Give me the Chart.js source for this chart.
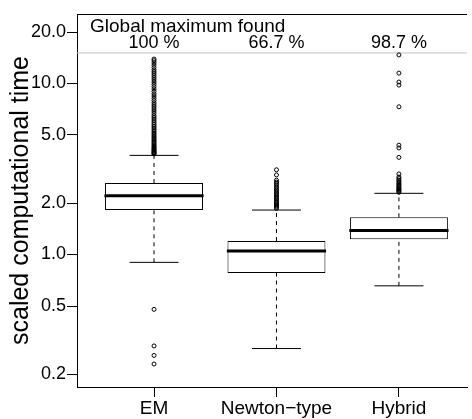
<!DOCTYPE html>
<html>
<head>
<meta charset="utf-8">
<script src="https://cdn.jsdelivr.net/npm/chart.js@4.4.0/dist/chart.umd.min.js"></script>
<style>
    html, body { margin: 0; padding: 0; background: #fff; }
    #wrap { width: 472px; height: 419px; }
</style>
</head>
<body>
<div id="wrap"><canvas id="chart"></canvas></div>
<script>
// methods and share of runs that reached the global maximum
const methods = ['EM', 'Newton\u2212type', 'Hybrid'];
const globalMaxFound = [100, 66.7, 98.7];

// box statistics
const whiskerLow = [0.90, 0.282, 0.656];
const q1 = [1.82, 0.78, 1.23];
const median = [2.21, 1.05, 1.38];
const q3 = [2.62, 1.20, 1.65];
const whiskerHigh = [3.80, 1.82, 2.28];

// outliers
const outliersEM = [0.229, 0.257, 0.292, 0.478,
    3.87, 3.9, 3.94, 3.98, 4.02, 4.07, 4.12, 4.18, 4.24, 4.3, 4.37, 4.44, 4.52, 4.6, 4.68,
    4.77, 4.86, 4.95, 5.05, 5.15, 5.26, 5.37, 5.5, 5.62, 5.75, 5.9, 6.05, 6.2, 6.35, 6.5,
    6.7, 6.9, 7.1, 7.3, 7.5, 7.7, 7.95, 8.2, 8.45, 8.7, 9.0, 9.3, 9.6, 9.9, 10.2, 10.5,
    10.8, 11.1, 11.4, 11.7, 12.0, 12.4, 12.8, 13.2, 13.6, 13.9];
const outliersNewton = [1.86, 1.89, 1.92, 1.95, 1.98, 2.01, 2.04, 2.08, 2.12, 2.16, 2.2, 2.24,
    2.28, 2.33, 2.38, 2.43, 2.48, 2.54, 2.6, 2.65, 2.72, 2.92, 3.13];
const outliersHybrid = [2.31, 2.34, 2.37, 2.4, 2.43, 2.46, 2.5, 2.54, 2.58, 2.62, 2.67, 2.72,
    2.78, 2.84, 2.96, 3.70, 4.20, 4.36, 7.31, 9.79, 10.2, 11.5, 14.7];

const yTicks = [0.2, 0.5, 1, 2, 5, 10, 20];
const HEADER_Y = 15.1;

const X_MIN = 0.371, X_MAX = 3.556;
const Y_MIN = 0.168, Y_MAX = 25.5;
const FONT = '"Liberation Sans", Arial, Helvetica, sans-serif';

const allOutliers = [outliersEM, outliersNewton, outliersHybrid];

function seg(x0, x1, y0, y1, width, dash) {
    return {
        type: 'line',
        data: [{x: x0, y: y0}, {x: x1, y: y1}],
        borderColor: '#000',
        borderWidth: width,
        borderDash: dash || [],
        borderCapStyle: 'butt',
        pointRadius: 0,
        fill: false
    };
}

const datasets = [];

datasets.push({
    type: 'bar',
    data: methods.map((m, i) => ({x: i + 1, y: [q1[i], q3[i]]})),
    backgroundColor: '#fff',
    borderColor: '#000',
    borderWidth: 1,
    borderSkipped: false,
    barPercentage: 0.8,
    categoryPercentage: 1,
    order: 5
});

methods.forEach((m, i) => {
    const x = i + 1;
    datasets.push(seg(x, x, q3[i], whiskerHigh[i], 1, [4, 4]));
    datasets.push(seg(x, x, whiskerLow[i], q1[i], 1, [4, 4]));
    datasets.push(seg(x - 0.2, x + 0.2, whiskerHigh[i], whiskerHigh[i], 1));
    datasets.push(seg(x - 0.2, x + 0.2, whiskerLow[i], whiskerLow[i], 1));
    datasets.push(seg(x - 0.405, x + 0.405, median[i], median[i], 3));
});

datasets.push({
    type: 'scatter',
    data: allOutliers.flatMap((list, i) => list.map(v => ({x: i + 1, y: v}))),
    pointStyle: 'circle',
    pointRadius: 2,
    pointBorderWidth: 1,
    pointBorderColor: '#000',
    pointBackgroundColor: 'rgba(255,255,255,0)'
});

datasets.push({
    type: 'line',
    data: [{x: X_MIN, y: HEADER_Y}, {x: X_MAX, y: HEADER_Y}],
    borderColor: '#c0c0c0',
    borderWidth: 1,
    pointRadius: 0
});

const headerPlugin = {
    id: 'header',
    afterDatasetsDraw(chart) {
        const {ctx, chartArea, scales} = chart;
        ctx.save();
        ctx.strokeStyle = '#000';
        ctx.lineWidth = 1;
        ctx.beginPath();
        ctx.moveTo(chartArea.left, chartArea.top + 0.5);
        ctx.lineTo(chartArea.right, chartArea.top + 0.5);
        ctx.stroke();

        ctx.fillStyle = '#000';
        ctx.font = '19px ' + FONT;
        ctx.textBaseline = 'alphabetic';
        ctx.textAlign = 'left';
        ctx.fillText('Global maximum found', chartArea.left + 13, chartArea.top + 18);
        ctx.font = '18px ' + FONT;
        ctx.textAlign = 'center';
        globalMaxFound.forEach((v, i) => {
            ctx.fillText(v + ' %', scales.x.getPixelForValue(i + 1), chartArea.top + 34);
        });
        ctx.restore();
    }
};

new Chart(document.getElementById('chart'), {
    type: 'bar',
    data: {datasets: datasets},
    options: {
        responsive: true,
        maintainAspectRatio: false,
        animation: false,
        layout: {padding: {top: 14, right: 0, bottom: 0, left: 0}},
        plugins: {
            legend: {display: false},
            tooltip: {enabled: false}
        },
        scales: {
            x: {
                type: 'linear',
                min: X_MIN,
                max: X_MAX,
                offset: false,
                afterBuildTicks: (scale) => {
                    scale.ticks = methods.map((m, i) => ({value: i + 1}));
                },
                afterFit: (scale) => { scale.height = 32; },
                ticks: {
                    autoSkip: false,
                    maxRotation: 0,
                    padding: 0,
                    color: '#000',
                    font: {family: FONT, size: 19},
                    callback: (v) => methods[v - 1]
                },
                grid: {offset: false, drawOnChartArea: false, drawTicks: true, tickLength: 10, color: '#000'},
                border: {display: true, color: '#000', width: 1}
            },
            y: {
                type: 'logarithmic',
                min: Y_MIN,
                max: Y_MAX,
                afterBuildTicks: (scale) => {
                    scale.ticks = yTicks.map(v => ({value: v}));
                },
                afterFit: (scale) => { scale.width = 77; },
                ticks: {
                    autoSkip: false,
                    padding: 1,
                    color: '#000',
                    font: {family: FONT, size: 18},
                    callback: (v) => Number(v).toFixed(1)
                },
                title: {
                    display: true,
                    text: 'scaled computational time',
                    color: '#000',
                    font: {family: FONT, size: 25},
                    padding: {top: 6, bottom: 0}
                },
                grid: {drawOnChartArea: false, drawTicks: true, tickLength: 10, color: '#000'},
                border: {display: true, color: '#000', width: 1}
            }
        }
    },
    plugins: [headerPlugin]
});
</script>
</body>
</html>
